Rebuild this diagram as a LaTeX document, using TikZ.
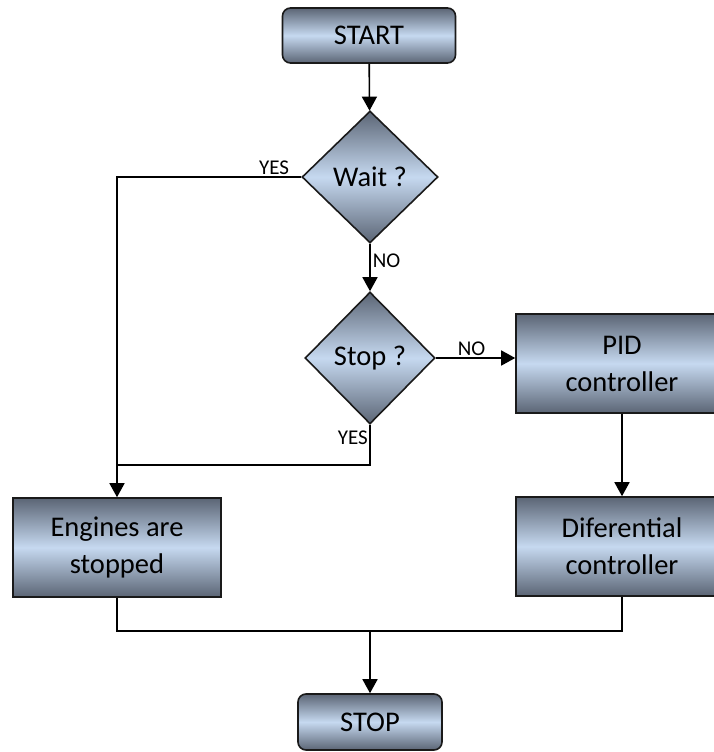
\documentclass[tikz,border=0pt]{standalone}
\usepackage{fontspec}
\setmainfont{Carlito}
\usetikzlibrary{shapes.geometric,arrows.meta}
\definecolor{shadedark}{HTML}{5B6575}
\definecolor{shadelight}{HTML}{C6D9F0}
\definecolor{edge}{HTML}{1A1A1A}
\tikzset{
  x=1pt, y=-1pt,
  shadedbox/.style={draw=edge, line width=1.6pt, top color=shadedark, bottom color=shadedark,
    middle color=shadelight, inner sep=0pt, align=center, font=\fontsize{28.5}{37}\selectfont},
  terminal/.style={shadedbox, rectangle, rounded corners=8pt},
  process/.style={shadedbox, rectangle},
  decision/.style={shadedbox, diamond},
  link/.style={line width=1.6pt, draw=black},
  arr/.style={link, -{Triangle[width=15pt,length=14pt]}},
  lbl/.style={font=\fontsize{21}{25}\selectfont, inner sep=2pt}
}
\begin{document}
\begin{tikzpicture}
\useasboundingbox (0,0) rectangle (713,752);

\node[terminal, minimum width=173pt, minimum height=55pt] (start) at (369,35.5) {START};
\node[decision, minimum width=136pt, minimum height=132pt] (wait) at (370,177) {Wait ?};
\node[decision, minimum width=130pt, minimum height=132pt] (stopq) at (370,358) {Stop ?};
\node[process, minimum width=212pt, minimum height=99pt] (pid) at (622,363.5) {PID\\controller};
\node[process, minimum width=212pt, minimum height=99pt] (dif) at (622,546.5) {Diferential\\controller};
\node[process, minimum width=208pt, minimum height=99pt] (eng) at (117,547.5) {Engines are\\stopped};
\node[terminal, minimum width=144pt, minimum height=56pt] (stop) at (370,722) {STOP};

\coordinate (j1) at (117,465);
\coordinate (j2) at (370,631);

\draw[arr] (start) -- (wait);
\draw[arr] (wait) -- node[lbl, right, pos=0.35] {NO} (stopq);
\draw[arr] (wait.west) -| (eng.north);
\node[lbl, anchor=south east] (yes1) at ([xshift=-10pt]wait.west) {YES};
\draw[arr] (stopq.east) -- node[lbl, above, pos=0.45] {NO} (stopq.east -| pid.west);
\draw[link] (stopq.south) |- (j1);
\node[lbl, anchor=north east] (yes2) at ([yshift=-4pt]stopq.south) {YES};
\draw[arr] (pid) -- (dif);
\draw[link] (eng.south) |- (j2) -| (dif.south);
\draw[arr] (j2) -- (stop);
\end{tikzpicture}
\end{document}
